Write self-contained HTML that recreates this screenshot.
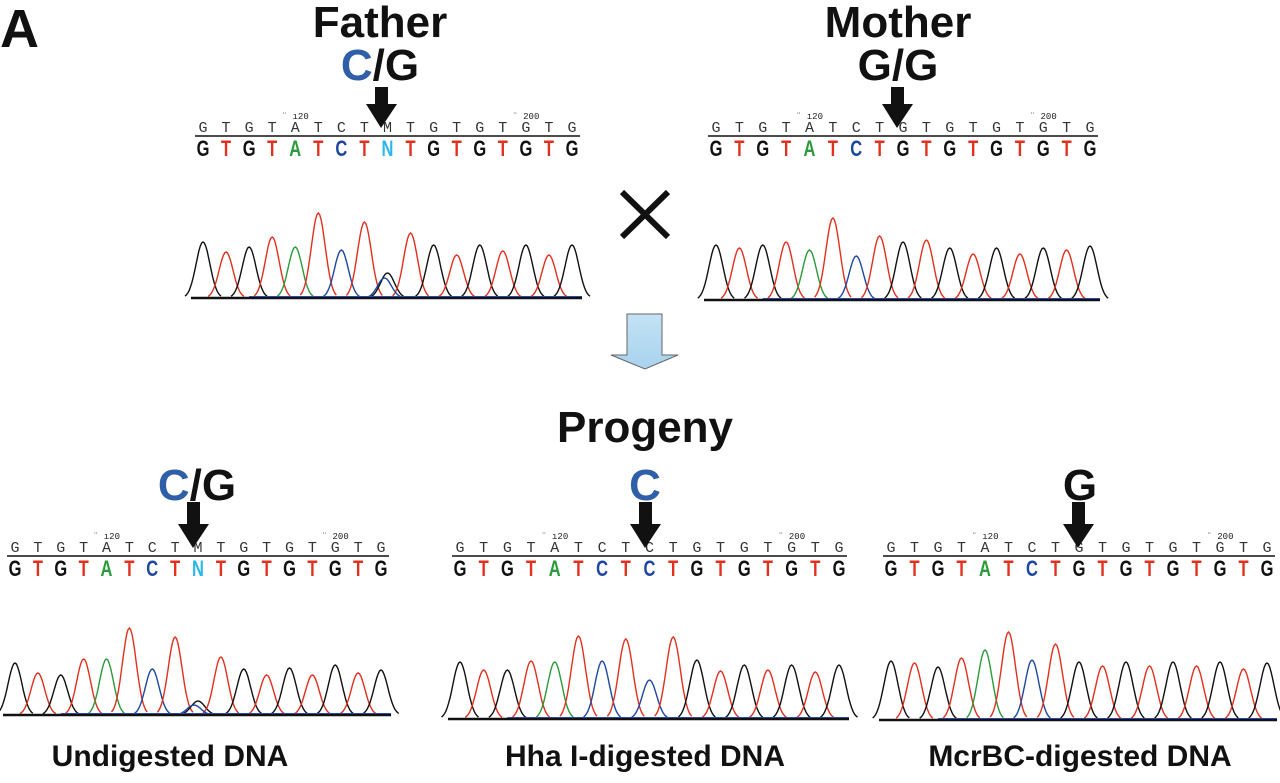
<!DOCTYPE html>
<html><head><meta charset="utf-8"><style>
html,body{margin:0;padding:0;background:#fff;width:1280px;height:783px;overflow:hidden}
svg{display:block}
.h{font-family:"Liberation Sans",Arial,sans-serif;font-weight:bold;fill:#111}
.s1{font-family:"Liberation Mono",monospace;font-size:15px;fill:#333}
.s2{font-family:"Liberation Sans",sans-serif;font-weight:bold;font-size:22px}
</style></head><body>
<svg id="s" width="1280" height="783" viewBox="0 0 1280 783" xmlns="http://www.w3.org/2000/svg">
<text class="h" x="0" y="47" font-size="54">A</text>
<text class="h" x="380" y="37" font-size="44" text-anchor="middle">Father</text>
<text class="h" x="380" y="80" font-size="44" text-anchor="middle"><tspan fill="#2f5fa8">C</tspan>/G</text>
<text class="h" x="898" y="37" font-size="44" text-anchor="middle">Mother</text>
<text class="h" x="898" y="80" font-size="44" text-anchor="middle">G/G</text>
<text class="h" x="645" y="442" font-size="44" text-anchor="middle">Progeny</text>
<text class="h" x="197" y="500" font-size="44" text-anchor="middle"><tspan fill="#2f5fa8">C</tspan>/G</text>
<text class="h" x="645" y="500" font-size="44" text-anchor="middle" style="fill:#2f5fa8">C</text>
<text class="h" x="1080" y="500" font-size="44" text-anchor="middle">G</text>
<text class="h" x="170" y="766" font-size="30" text-anchor="middle">Undigested DNA</text>
<text class="h" x="645" y="766" font-size="30" text-anchor="middle">Hha I-digested DNA</text>
<text class="h" x="1080" y="766" font-size="30" text-anchor="middle">McrBC-digested DNA</text>
<path d="M622 192 L668 237 M668 192 L622 237" stroke="#111" stroke-width="6"/>
<defs><linearGradient id="g" x1="0" y1="0" x2="0" y2="1"><stop offset="0" stop-color="#c4e2f4"/><stop offset="1" stop-color="#a8d2ee"/></linearGradient></defs>
<path d="M627 314 H662 V355 H678 L645 369 L611 355 H627 Z" fill="url(#g)" stroke="#666" stroke-width="1"/>
<g id="p"></g>
</svg>
<script>
var NS="http://www.w3.org/2000/svg",P=document.getElementById('p');
function el(t,a,txt){var e=document.createElementNS(NS,t);for(var k in a)e.setAttribute(k,a[k]);if(txt)e.textContent=txt;P.appendChild(e);return e;}
var col={G:'#111',T:'#e0301e',A:'#2a9a3a',C:'#1d47a0',N:'#2ab8e8',M:'#222'};
function arrow(x,y1,y2){el('path',{d:'M'+(x-6)+' '+y1+' H'+(x+7)+' V'+(y2-24)+' H'+(x+16)+' L'+x+' '+y2+' L'+(x-15)+' '+(y2-24)+' H'+(x-6)+' Z',fill:'#111'});}
function panel(x0,x1,ys,yb,top,bot,h,extra){
 var n=17,dx=(x1-x0)/(n-1);
 for(var i=0;i<n;i++){var x=x0+i*dx;
  el('text',{x:x,y:ys,'class':'s1','text-anchor':'middle'},top[i]);
  var b=el('text',{x:x,y:ys+24,'class':'s2','text-anchor':'middle',fill:col[bot[i]]},bot[i]);
  b.setAttribute('transform','translate('+x+' 0) scale(0.75 1) translate('+(-x)+' 0)');}
 el('line',{x1:x0-8,x2:x1+8,y1:ys+4,y2:ys+4,stroke:'#111','stroke-width':1.5});
 el('text',{x:x0+4*dx,y:ys-13,'font-size':'9',fill:'#222','text-anchor':'middle','font-family':'Liberation Mono'},'¨ ı20');
 el('text',{x:x0+14*dx,y:ys-13,'font-size':'9',fill:'#222','text-anchor':'middle','font-family':'Liberation Mono'},'¨ 200');
 var peaks=[];for(var i=0;i<n;i++)peaks.push([x0+i*dx,h[i],col[bot[i]=='N'?'G':bot[i]]]);
 (extra||[]).forEach(function(e){peaks.push([x0+e[0]*dx+(e[3]||0),e[1],e[2]]);});
 peaks.forEach(function(p){var d='',sg=dx*0.3;for(var k=-2.6;k<=2.61;k+=0.2){var xx=p[0]+k*sg,yy=yb-p[1]*Math.exp(-k*k/2);d+=(d?'L':'M')+xx.toFixed(1)+' '+yy.toFixed(1);}
  el('path',{d:d,fill:'none',stroke:p[2],'stroke-width':1.4});});
 el('line',{x1:x0-12,x2:x1+10,y1:yb,y2:yb,stroke:'#111','stroke-width':2.5});
 el('line',{x1:x0+2*dx,x2:x1+10,y1:yb-1.5,y2:yb-1.5,stroke:'#2a48a8','stroke-width':1});
}
var T1='GTGTATCTMTGTGTGTG'.split(''),T2='GTGTATCTGTGTGTGTG'.split(''),T3='GTGTATCTCTGTGTGTG'.split('');
var B1='GTGTATCTNTGTGTGTG'.split(''),B2='GTGTATCTGTGTGTGTG'.split(''),B3='GTGTATCTCTGTGTGTG'.split('');
var hf=[56,46,51,61,51,85,48,76,25,65,53,43,53,47,53,43,53];
panel(203,572,132,298,T1,B1,hf,[[8,20,'#1d47a0',-3]]);
arrow(381,87,128);
var hm=[55,52,55,58,50,82,44,64,58,60,52,46,52,46,52,50,54];
panel(716,1090,132,300,T2,B2,hm);
arrow(897,87,128);
var hu=[52,42,40,56,56,87,46,78,14,58,46,40,47,40,50,42,45];
panel(15,381,552,715,T1,B1,hu,[[8,10,'#1d47a0',-4]]);
arrow(193,502,548);
var hh=[57,49,49,58,57,83,58,80,39,82,59,48,54,49,54,47,54];
panel(460,839,552,719,T3,B3,hh);
arrow(645,502,548);
var hc=[59,57,53,62,70,88,60,76,58,54,58,54,58,54,58,51,57];
panel(891,1267,552,720,T2,B2,hc);
arrow(1078,502,548);
</script>
</body></html>
